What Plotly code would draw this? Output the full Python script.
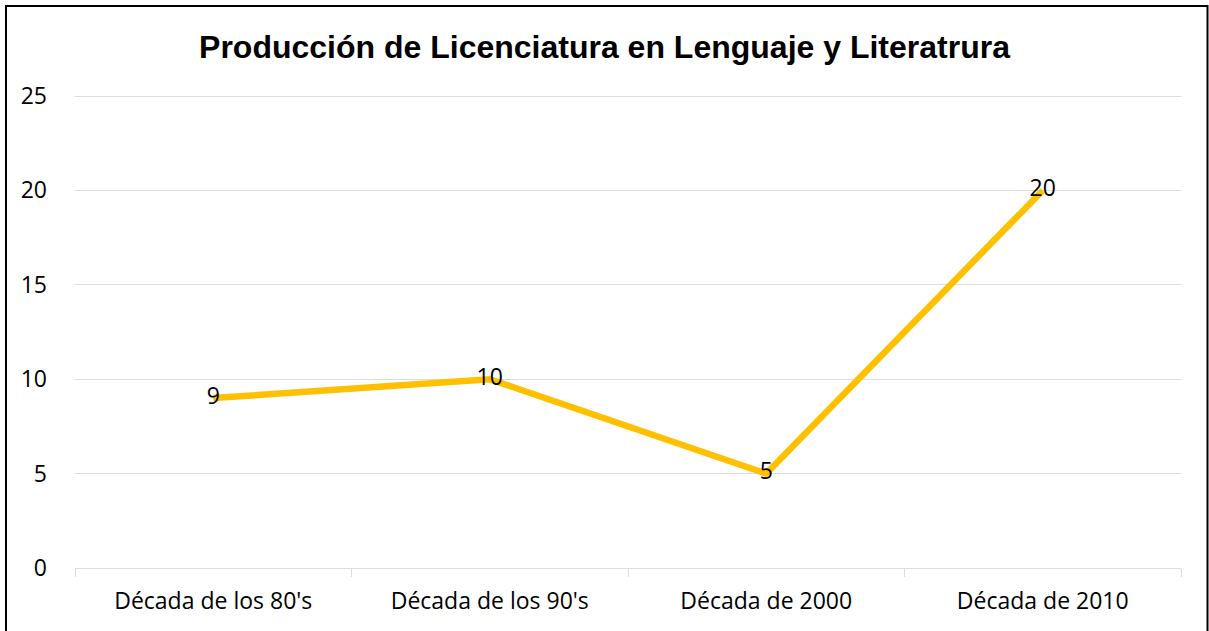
import plotly.graph_objects as go

categories = ["Década de los 80's", "Década de los 90's", "Década de 2000", "Década de 2010"]
values = [9, 10, 5, 20]
y_ticks = [0, 5, 10, 15, 20, 25]
title_text = "Producción de Licenciatura en Lenguaje y Literatrura"

W, H = 1209, 631
ml, mr, mt, mb = 75, 28, 88, 63
pw, ph = W - ml - mr, H - mt - mb
unit_px = (568 - 96) / 25.0
y_top = ph / unit_px

def px_x(x):
    return (x - ml) / pw

def px_y(y):
    return (H - mb - y) / ph

fig = go.Figure()
fig.add_trace(go.Scatter(
    x=categories, y=values, mode="lines+text",
    text=[str(v) for v in values], textposition="middle center",
    textfont=dict(family="Open Sans", size=23, color="black"),
    line=dict(color="#FFC000", width=6.5),
    hoverinfo="skip", showlegend=False,
))

grid = "#D9DDE5"
fig.update_layout(
    width=W, height=H,
    margin=dict(l=ml, r=mr, t=mt, b=mb),
    paper_bgcolor="white", plot_bgcolor="white",
    title=dict(text="<b>" + title_text + "</b>", x=0.5, xanchor="center",
               y=1 - 47 / H, yanchor="middle",
               font=dict(family="Liberation Sans", size=32, color="black")),
    xaxis=dict(type="category", showgrid=False, showline=True, linecolor=grid, linewidth=1,
               ticks="outside", tickson="boundaries", ticklen=8, tickcolor=grid,
               tickfont=dict(family="Open Sans", size=23, color="black"),
               ticklabelstandoff=12, range=[-0.5, 3.5], fixedrange=True),
    yaxis=dict(range=[0, y_top], tickvals=y_ticks, showgrid=True, gridcolor=grid, gridwidth=1,
               zeroline=False, showline=False, ticks="",
               tickfont=dict(family="Open Sans", size=23, color="black"),
               ticklabelstandoff=27, fixedrange=True),
    shapes=[dict(type="rect", xref="paper", yref="paper",
                 x0=px_x(6), x1=px_x(1207.5), y0=px_y(640), y1=px_y(6),
                 line=dict(color="black", width=2), fillcolor="rgba(0,0,0,0)", layer="above")],
)

fig.write_html("out.html", config={"displayModeBar": False},
               post_script="document.body.style.margin='0';document.body.style.overflow='hidden';")
